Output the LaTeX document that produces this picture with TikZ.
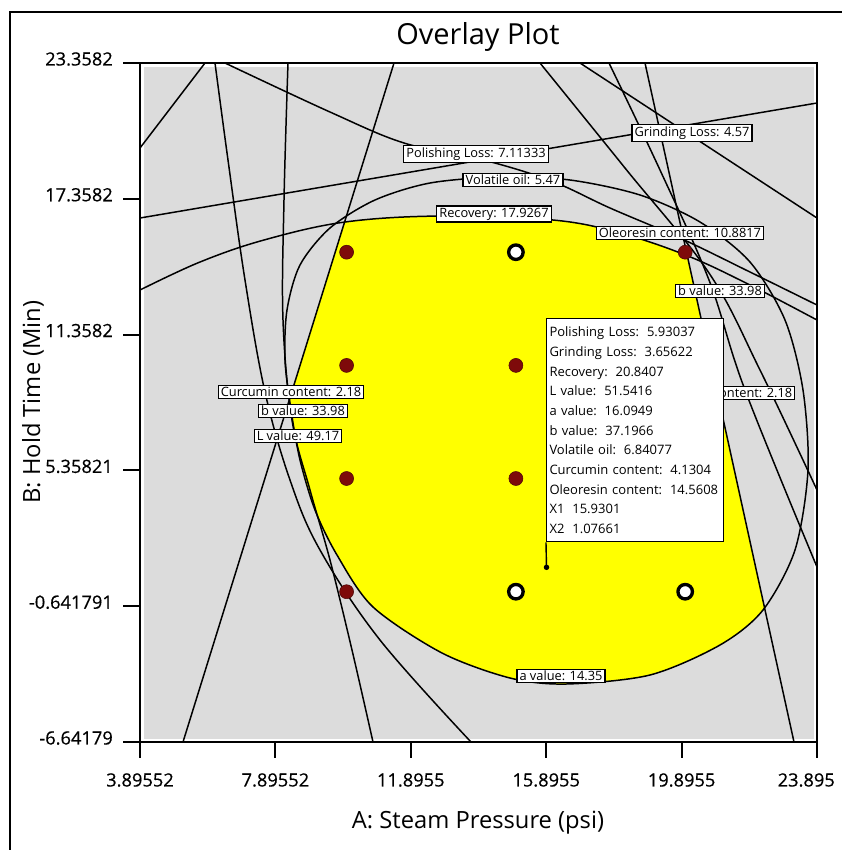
\documentclass[tikz,border=0pt]{standalone}
\usepackage{fontspec}
\setmainfont{Open Sans}
\newfontfamily\tickfont[FakeBold=0.5]{Open Sans}
\usetikzlibrary{positioning}
\definecolor{plotgray}{HTML}{DCDCDC}
\definecolor{regionyellow}{HTML}{FFFF00}
\definecolor{ptred}{HTML}{7E0A0A}
\tikzset{
  contour/.style={draw=black, line width=0.85pt},
  tag/.style={draw=black, fill=white, line width=0.7pt, inner xsep=1.5pt, inner ysep=1pt, font=\fontsize{7.3}{8}\selectfont},
  infobox/.style={draw=black, fill=white, line width=0.8pt, align=left, inner xsep=1.6pt, inner ysep=3pt, text width=3.43cm, minimum height=4.46cm, font=\fontsize{7.4}{11.2}\selectfont},
  runpt/.style={circle, fill=ptred, draw=ptred!60!black, line width=0.3pt, minimum size=2.8mm, inner sep=0pt},
  ctrpt/.style={circle, fill=white, draw=black, line width=1.9pt, minimum size=2.9mm, inner sep=0pt},
  probedot/.style={circle, fill=black, minimum size=1.1mm, inner sep=0pt},
  axtick/.style={draw=black, line width=1.1pt},
  ticklab/.style={font=\tickfont\fontsize{10.4}{12}\selectfont},
  axtitle/.style={font=\fontsize{13.5}{16}\selectfont}
}
\newcommand{\gap}{\hspace{4.5pt}}

\begin{document}
\begin{tikzpicture}[x=0.02cm, y=-0.02cm]
\useasboundingbox (0,0) rectangle (842,850);
\fill[white] (0,0) rectangle (842,850);
% frame round the figure (only left and top show)
\draw[line width=1.1pt] (10,850) -- (10,12) -- (842,12);

\node[font=\fontsize{16.5}{20}\selectfont] (ttl) at (478,37) {Overlay Plot};

% plot area
\fill[plotgray] (143.5,67) rectangle (813.5,738.5);

% feasible region
\begin{scope}
\clip plot[smooth cycle, tension=0.5] coordinates {(566,684) (650,675) (720,645) (763,610) (795,550) (808,470) (803,390) (785,320) (750,262) (700,222) (640,195) (570,180) (500,177) (430,183) (375,200) (330,228) (300,265) (287,310) (285,360) (291,410) (300,460) (315,510) (337,555) (373,607) (442,653) (510,678)};
\clip plot[smooth, tension=0.6] coordinates {(140,290) (200,262) (264,240) (345,222) (442,216) (553,220) (620,233) (688,256) (750,285) (817,320)} -- (817,742) -- (140,742) -- cycle;
\clip (394,63) -- (183,742) -- (817,742) -- (817,63) -- cycle;
\clip (645,63) -- (794,742) -- (140,742) -- (140,63) -- cycle;
\fill[regionyellow] (140,63) rectangle (817,742);
\end{scope}

% contours
\begin{scope}
\clip (140,63) rectangle (817,742);
\draw[contour] (140,218) -- (817,103);
\draw[contour] plot[smooth, tension=0.6] coordinates {(225,63) (330,112) (404,143) (476,158) (549,180) (610,208) (680,238) (750,272) (817,305)};
\draw[contour] plot[smooth, tension=0.6] coordinates {(140,290) (200,262) (264,240) (345,222) (442,216) (553,220) (620,233) (688,256) (750,285) (817,320)};
\draw[contour] plot[smooth cycle, tension=0.5] coordinates {(566,684) (650,675) (720,645) (763,610) (795,550) (808,470) (803,390) (785,320) (750,262) (700,222) (640,195) (570,180) (500,177) (430,183) (375,200) (330,228) (300,265) (287,310) (285,360) (291,410) (300,460) (315,510) (337,555) (373,607) (442,653) (510,678)};
\draw[contour] (394,63) -- (183,742);
\draw[contour] plot[smooth, tension=0.6] coordinates {(215,63) (228,160) (245,280) (265,392) (290,480) (320,550) (380,640) (471,742)};
\draw[contour] plot[smooth, tension=0.6] coordinates {(288,63) (284,200) (283,320) (292,420) (310,490) (330,560) (352,650) (373,742)};
\draw[contour] (205,63) -- (140,148);
\draw[contour] plot[smooth, tension=0.6] coordinates {(540,63) (625,168) (709,273) (760,370) (817,490)};
\draw[contour] (580,63) -- (817,218);
\draw[contour] plot[smooth, tension=0.6] coordinates {(609,63) (660,170) (709,280) (745,390) (817,567)};
\draw[contour] (645,63) -- (794,742);
\end{scope}

\draw[line width=1.1pt] (140,63) rectangle (817,742);

% axes
\foreach \yy/\lab in {63/23.3582, 198.8/17.3582, 334.6/11.3582, 470.4/5.35821, 606.2/-0.641791, 742/-6.64179} {
  \draw[axtick] (123,\yy) -- (140,\yy);
  \node[ticklab, anchor=east] (ylab\yy) at (119,\yy-4) {\lab};
}
\foreach \xx/\lab in {140/3.89552, 275.4/7.89552, 410.8/11.8955, 546.2/15.8955, 681.6/19.8955} {
  \draw[axtick] (\xx,742) -- (\xx,758);
  \node[ticklab] (xlab\xx) at (\xx,780) {\lab};
}
\draw[axtick] (817,742) -- (817,758);
\node[ticklab, anchor=east] (xlablast) at (841,780) {23.895};
\node[axtitle] (xttl) at (478,823) {A: Steam Pressure (psi)};
\node[axtitle, rotate=90] (yttl) at (33,402) {B: Hold Time (Min)};

% design points
\foreach \xx/\yy/\nm in {346.6/252.2/ra, 346.6/365.4/rb, 346.6/478.5/rc, 346.6/591.7/rd, 515.9/365.4/re, 515.9/478.5/rf, 685.2/252.2/rg} {
  \node[runpt] (\nm) at (\xx,\yy) {};
}
\foreach \xx/\yy/\nm in {515.9/252.2/ca, 515.9/591.7/cb, 685.2/591.7/cc} {
  \node[ctrpt] (\nm) at (\xx,\yy) {};
}

% contour tags
\node[tag] (grindtag) at (692,133) {Grinding Loss: 4.57};
\node[tag] (polishtag) at (476,154) {Polishing Loss: 7.11333};
\node[tag] (voltag) at (513,180) {Volatile oil: 5.47};
\node[tag] (rectag) at (494,214) {Recovery: 17.9267};
\node[tag] (oleotag) at (680,233) {Oleoresin content: 10.8817};
\node[tag] (bvaltagr) at (720,291) {b value: 33.98};
\node[tag] (curtagr) at (722,393) {Curcumin content: 2.18};
\node[tag] (curtagl) at (291,392) {Curcumin content: 2.18};
\node[tag] (bvaltagl) at (303,411) {b value: 33.98};
\node[tag] (lvaltag) at (298,436) {L value: 49.17};
\node[tag] (avaltag) at (561,676) {a value: 14.35};

% flag at the chosen point
\node[infobox, anchor=north west] (info) at (546,318) {Polishing Loss:\gap 5.93037\\ Grinding Loss:\gap 3.65622\\ Recovery:\gap 20.8407\\ L value:\gap 51.5416\\ a value:\gap 16.0949\\ b value:\gap 37.1966\\ Volatile oil:\gap 6.84077\\ \mbox{Curcumin content:\gap 4.1304}\\ \mbox{Oleoresin content:\gap 14.5608}\\ X1\gap 15.9301\\ X2\gap 1.07661};
\node[probedot] (probe) at (546.5,567.3) {};
\draw[line width=0.8pt] (info.south west) -- (probe.center);
\end{tikzpicture}
\end{document}
